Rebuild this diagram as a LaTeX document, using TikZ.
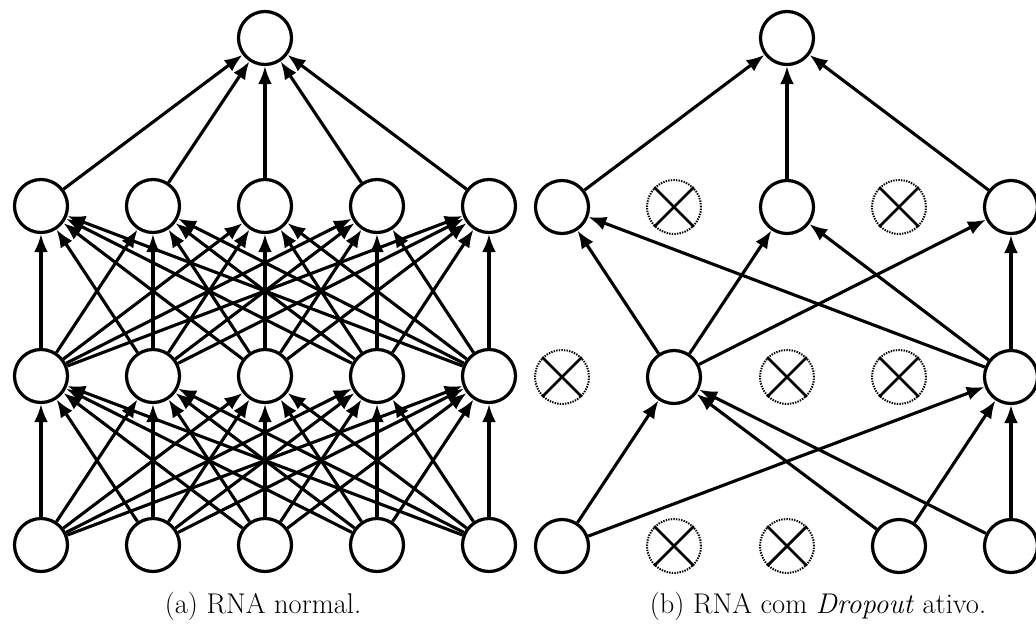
\documentclass[tikz,border=0pt]{standalone}
\usetikzlibrary{arrows.meta}
\tikzset{
  unit/.style={circle, draw, line width=3.2pt, minimum size=53pt, inner sep=0pt, fill=white},
  gone/.style={circle, draw, line width=2pt, dash pattern=on 1.4pt off 1.2pt, minimum size=54pt, inner sep=0pt},
  xmark/.style={line width=2.8pt},
  link/.style={line width=3.1pt, -{Latex[length=18pt,width=14pt]}},
  caption/.style={font=\fontsize{28.5}{34}\selectfont, inner sep=0pt},
}
\newcommand{\dropnode}[2]{%
  \node[gone] (#1) at (#2) {};
  \draw[xmark] (#1.45) -- (#1.225) (#1.135) -- (#1.315);
}
\begin{document}
\begin{tikzpicture}[x=1pt, y=-1pt]
\useasboundingbox (0,0) rectangle (1036,630);
\clip (0,0) rectangle (1036,630);

% ---------- (a) fully connected network ----------
\node[unit] (a0) at (265,38) {};
\foreach \i/\x in {0/41,1/153,2/265,3/377,4/489} {
  \node[unit] (a1\i) at (\x,206) {};
  \node[unit] (a2\i) at (\x,376) {};
  \node[unit] (a3\i) at (\x,545) {};
}
\foreach \i in {0,...,4} {
  \draw[link] (a1\i) -- (a0);
  \foreach \j in {0,...,4} {
    \draw[link] (a2\i) -- (a1\j);
    \draw[link] (a3\i) -- (a2\j);
  }
}

% ---------- (b) network with dropped units ----------
\node[unit] (b0) at (787,38) {};
% first hidden layer
\node[unit] (b10) at (562,207) {};
\dropnode{b11}{674,207}
\node[unit] (b12) at (787,207) {};
\dropnode{b13}{899,207}
\node[unit] (b14) at (1011,207) {};
% second hidden layer
\dropnode{b20}{562,377}
\node[unit] (b21) at (674,377) {};
\dropnode{b22}{787,377}
\dropnode{b23}{899,377}
\node[unit] (b24) at (1011,377) {};
% input layer
\node[unit] (b30) at (562,546) {};
\dropnode{b31}{674,546}
\dropnode{b32}{787,546}
\node[unit] (b33) at (899,546) {};
\node[unit] (b34) at (1011,546) {};

\foreach \i in {0,2,4} {
  \draw[link] (b1\i) -- (b0);
  \foreach \j in {1,4} \draw[link] (b2\j) -- (b1\i);
}
\foreach \i in {0,3,4} {
  \foreach \j in {1,4} \draw[link] (b3\i) -- (b2\j);
}

% ---------- captions ----------
\node[caption] (capa) at (263,606) {(a) RNA normal.};
\node[caption] (capb) at (818,606) {(b) RNA com \textit{Dropout} ativo.};
\end{tikzpicture}
\end{document}
